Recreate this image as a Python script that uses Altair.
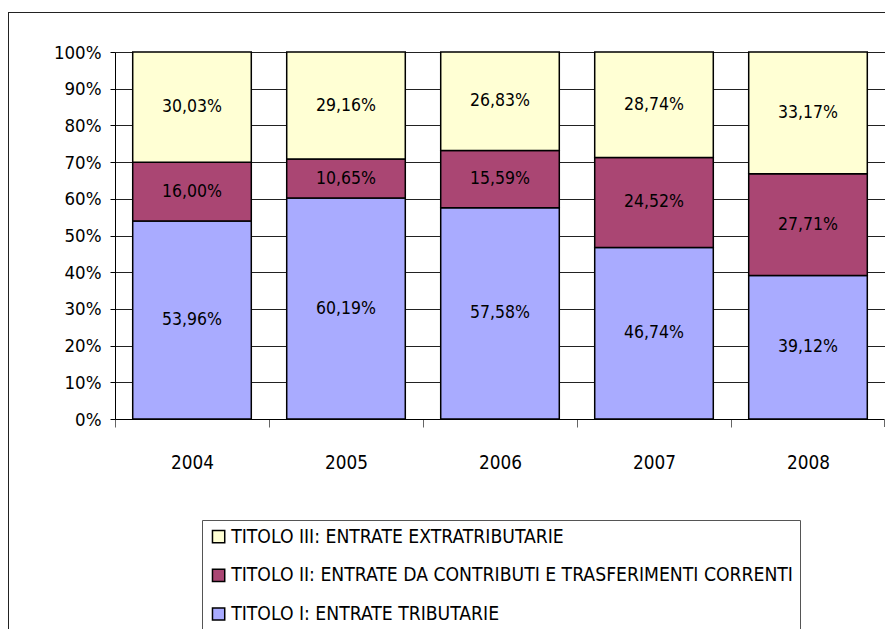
import altair as alt
import pandas as pd

years = ["2004", "2005", "2006", "2007", "2008"]
series = [
    "TITOLO I: ENTRATE TRIBUTARIE",
    "TITOLO II: ENTRATE DA CONTRIBUTI E TRASFERIMENTI CORRENTI",
    "TITOLO III: ENTRATE EXTRATRIBUTARIE",
]
titolo_1 = [53.96, 60.19, 57.58, 46.74, 39.12]
titolo_2 = [16.00, 10.65, 15.59, 24.52, 27.71]
titolo_3 = [30.03, 29.16, 26.83, 28.74, 33.17]
colors = ["#A9ABFF", "#AA4673", "#FFFFD4"]
y_ticks = [0, 10, 20, 30, 40, 50, 60, 70, 80, 90, 100]

rows = []
for s_i, (name, vals) in enumerate(zip(series, [titolo_1, titolo_2, titolo_3])):
    for y, v in zip(years, vals):
        rows.append({
            "year": y,
            "serie": name,
            "ord": s_i,
            "val": v,
            "lab": f"{v:.2f}".replace(".", ",") + "%",
        })
df = pd.DataFrame(rows)

W, H = 770, 367
step = W / 5
FONT = "DejaVu Sans Condensed, DejaVu Sans"

base = alt.Chart(df).transform_stack(
    stack="val", groupby=["year"], as_=["lo", "hi"],
    sort=[alt.SortField("ord", order="ascending")],
).transform_calculate(mid="(datum.lo + datum.hi) / 2")

xscale = alt.Scale(paddingInner=0.23, paddingOuter=0.115)
yscale = alt.Scale(domain=[0, 100], nice=False)

xaxis = alt.Axis(
    labelAngle=0, labelFontSize=18.8, labelFont=FONT,
    labelColor="#000", tickOffset=-step / 2, labelOffset=step / 2,
    tickSize=8, tickColor="#666", labelPadding=26, domainColor="#000",
    grid=False,
)
yaxis = alt.Axis(
    values=y_ticks, labelExpr="datum.value + '%'", labelOverlap=False,
    labelFontSize=18.5, labelFont=FONT,
    labelColor="#000", tickSize=5, tickColor="#000", labelPadding=9,
    domainColor="#000", grid=True, gridColor="#222", gridOpacity=1,
)

bars = base.mark_bar(stroke="#000", strokeWidth=1.5).encode(
    x=alt.X("year:N", title=None, scale=xscale, axis=xaxis),
    y=alt.Y("lo:Q", title=None, scale=yscale, axis=yaxis),
    y2="hi:Q",
    color=alt.Color(
        "serie:N",
        scale=alt.Scale(domain=series, range=colors),
        legend=alt.Legend(
            title=None, orient="none", legendX=87, legendY=468,
            values=list(reversed(series)),
            strokeColor="#555", fillColor="#fff", padding=7,
            rowPadding=18.7, symbolType="square", symbolSize=150,
            symbolStrokeColor="#000", symbolStrokeWidth=1.5,
            labelFontSize=19.2, labelFont=FONT,
            labelColor="#000", labelLimit=900, labelOffset=3,
        ),
    ),
)

texts = base.mark_text(
    fontSize=17.5, font=FONT, color="#000"
).encode(
    x=alt.X("year:N", title=None, scale=xscale, axis=xaxis),
    y=alt.Y("mid:Q", title=None, scale=yscale, axis=yaxis),
    text="lab:N",
)

frame = alt.Chart(df).mark_rect(
    filled=False, stroke="#222", strokeWidth=1
).encode(
    x=alt.value(-106.5), x2=alt.value(W + 60),
    y=alt.value(-39.5), y2=alt.value(H + 400),
)

end_tick = alt.Chart(df).mark_rule(color="#666").encode(
    x=alt.value(W), y=alt.value(H), y2=alt.value(H + 8)
)

chart = alt.layer(frame, bars, texts, end_tick).properties(
    width=W, height=H,
    autosize=alt.AutoSizeParams(type="none"),
    padding={"left": 107, "top": 44, "right": 0, "bottom": 210},
).configure_view(stroke="#999", strokeWidth=1).configure(background="#fff")

chart.save("out.html", embed_options={"renderer": "svg", "actions": False})
